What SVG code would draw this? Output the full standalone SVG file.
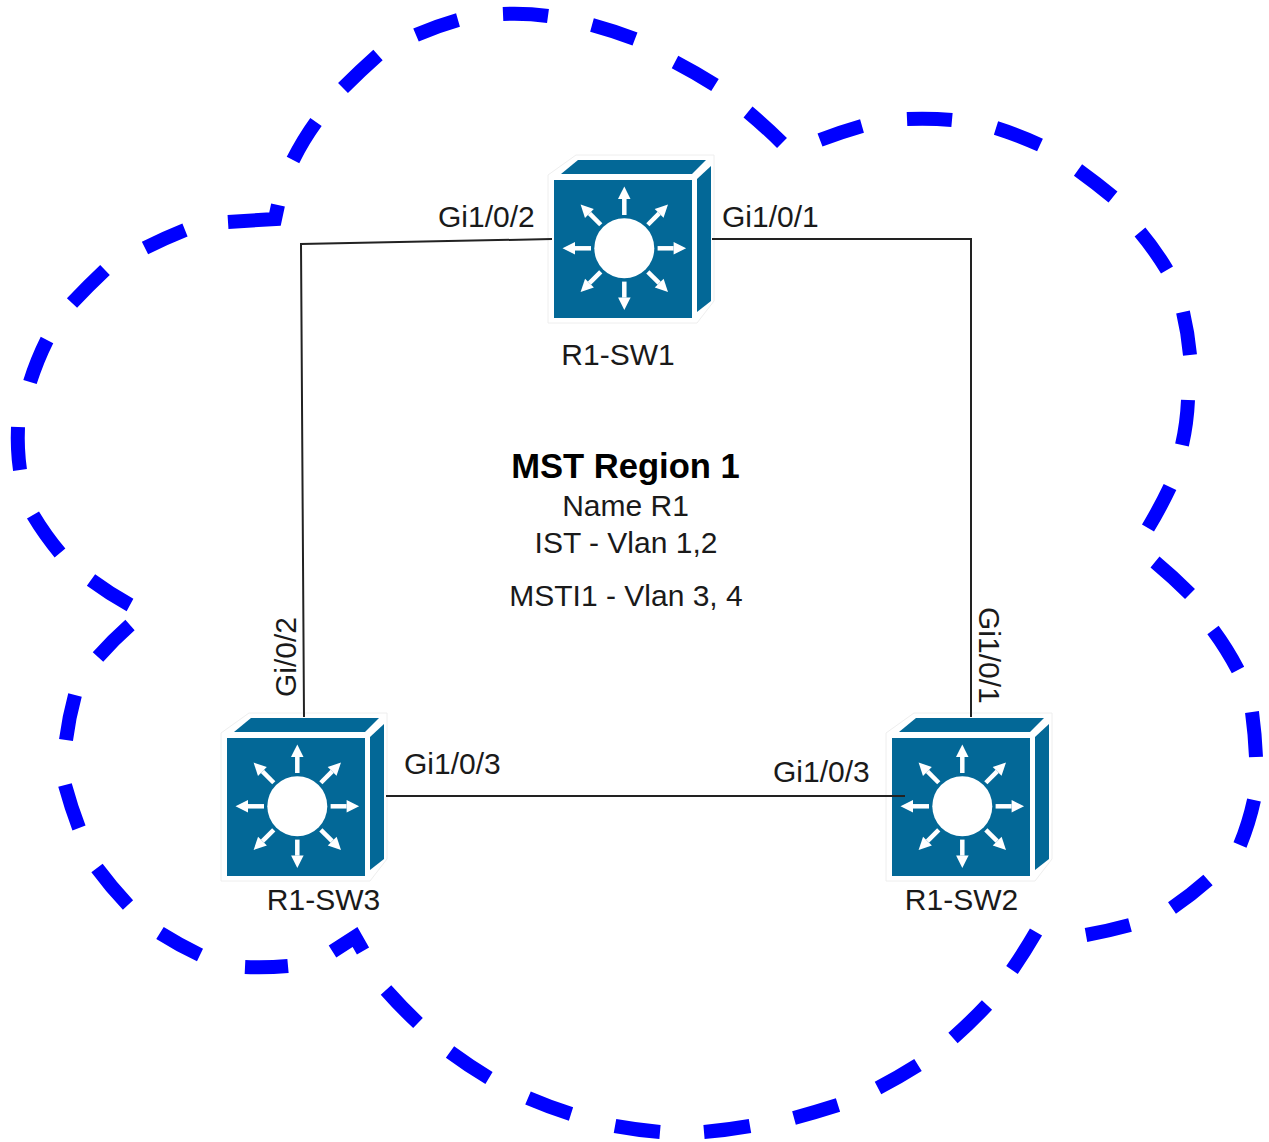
<svg xmlns="http://www.w3.org/2000/svg" width="1269" height="1142" viewBox="0 0 1269 1142">
<style>
.t{font-family:"Liberation Sans",Arial,sans-serif;font-size:30px;fill:#1a1a1a}
.c{text-anchor:middle}
.b{font-weight:bold;font-size:34.6px;fill:#000}
.d{fill:none;stroke:#0000ff;stroke-width:14}
.l{fill:none;stroke:#222;stroke-width:2}
.bf{fill:#036897}
.w{fill:#fff}
.a{stroke:#fff;stroke-width:4.5;fill:none}
.ah{fill:#fff}
</style>
<defs>
<g id="arm">
<path class="a" d="M76.3 60 V44"/><path class="ah" d="M76.3 31.5 L82.5 44 L70 44 Z"/>
</g>
<g id="sw">
<path fill="#fff" stroke="#eee" stroke-linejoin="round" d="M0 20 L28 0 L166 0 L166 146 L149 168 L0 168 Z"/>
<path class="bf" d="M6 25 H144 V163 H6 Z"/>
<path class="bf" d="M13 19 L30 5 L158 5 L144 19 Z"/>
<path class="bf" d="M149 24 L163 11 V146 L149 157 Z"/>
<circle class="w" cx="76.3" cy="93.3" r="30"/>
<use href="#arm"/>
<use href="#arm" transform="rotate(45 76.3 93.3)"/>
<use href="#arm" transform="rotate(90 76.3 93.3)"/>
<use href="#arm" transform="rotate(135 76.3 93.3)"/>
<use href="#arm" transform="rotate(180 76.3 93.3)"/>
<use href="#arm" transform="rotate(225 76.3 93.3)"/>
<use href="#arm" transform="rotate(270 76.3 93.3)"/>
<use href="#arm" transform="rotate(315 76.3 93.3)"/>
</g>
</defs>
<g id="R1-SW1"><use href="#sw" x="548" y="155"/><text class="t c" x="618" y="365">R1-SW1</text></g>
<g id="R1-SW2"><use href="#sw" x="886" y="713"/><text class="t c" x="961.5" y="910">R1-SW2</text></g>
<g id="R1-SW3"><use href="#sw" x="221" y="713"/><text class="t c" x="323.5" y="910">R1-SW3</text></g>
<g id="connectors">
<path class="l" d="M552 239 L301 244 L304 717"/>
<path class="l" d="M712 239 H971 V717"/>
<path class="l" d="M386 796 H905"/>
<g id="region-cloud">
<path class="d" d="M416 35 Q437 26 458 20"/>
<path class="d" d="M503 14 Q526 13 548 16"/>
<path class="d" d="M592 25 Q614 31 635 39"/>
<path class="d" d="M675 62 Q696 73 715 85"/>
<path class="d" d="M748 112 Q766 127 782 143"/>
<path class="d" d="M820 140 Q841 132 862 126"/>
<path class="d" d="M907 119 Q930 118 952 120"/>
<path class="d" d="M996 128 Q1018 135 1040 145"/>
<path class="d" d="M1078 170 Q1096 183 1113 197"/>
<path class="d" d="M1140 232 Q1155 250 1167 270"/>
<path class="d" d="M1183 312 Q1188 333 1190 355"/>
<path class="d" d="M1188 400 Q1187 423 1182 445"/>
<path class="d" d="M1170 487 Q1160 508 1148 528"/>
<path class="d" d="M1155 562 Q1173 577 1190 594"/>
<path class="d" d="M1213 630 Q1227 649 1238 670"/>
<path class="d" d="M1252 712 Q1255 734 1256 757"/>
<path class="d" d="M1254 800 Q1249 823 1240 845"/>
<path class="d" d="M1208 880 Q1191 895 1172 908"/>
<path class="d" d="M1130 925 Q1108 931 1086 935"/>
<path class="d" d="M1036 932 Q1025 951 1012 970"/>
<path class="d" d="M987 1005 Q971 1022 953 1038"/>
<path class="d" d="M918 1065 Q899 1077 878 1088"/>
<path class="d" d="M838 1105 Q816 1112 794 1118"/>
<path class="d" d="M750 1126 Q727 1130 704 1132"/>
<path class="d" d="M660 1132 Q637 1130 615 1126"/>
<path class="d" d="M571 1114 Q549 1107 528 1098"/>
<path class="d" d="M489 1078 Q469 1066 450 1052"/>
<path class="d" d="M418 1023 Q401 1007 386 990"/>
<path class="d" d="M332.5 951.5 L355 937 L363 951"/>
<path class="d" d="M288 966 Q266 968 245 967"/>
<path class="d" d="M200 955 Q179 945 160 933"/>
<path class="d" d="M128 905 Q111 887 97 868"/>
<path class="d" d="M79 828 Q71 807 65 785"/>
<path class="d" d="M66 740 Q69 717 75 695"/>
<path class="d" d="M98 657 Q113 640 130 625"/>
<path class="d" d="M130 605 Q110 594 91 580"/>
<path class="d" d="M60 553 Q45 535 33 515"/>
<path class="d" d="M20 470 Q17 449 18 427"/>
<path class="d" d="M30 382 Q37 360 47 340"/>
<path class="d" d="M72 303 Q88 286 105 270"/>
<path class="d" d="M145 248 Q165 238 185 230"/>
<path class="d" d="M228 222 L275 219 L278 205"/>
<path class="d" d="M293 160 Q303 140 316 122"/>
<path class="d" d="M343 88 Q360 71 378 55"/>
</g>
</g>
<g id="labels">
<text class="t" x="438" y="227">Gi1/0/2</text>
<text class="t" x="722" y="227">Gi1/0/1</text>
<text class="t" x="404" y="774">Gi1/0/3</text>
<text class="t" x="773" y="782">Gi1/0/3</text>
<text class="t" transform="translate(296,697) rotate(-90)">Gi/0/2</text>
<text class="t" transform="translate(979,607) rotate(90)">Gi1/0/1</text>
<text class="t c b" x="625.5" y="478">MST Region 1</text>
<text class="t c" x="625.5" y="516">Name R1</text>
<text class="t c" x="626" y="553">IST - Vlan 1,2</text>
<text class="t c" x="626" y="606">MSTI1 - Vlan 3, 4</text>
</g>
</svg>
